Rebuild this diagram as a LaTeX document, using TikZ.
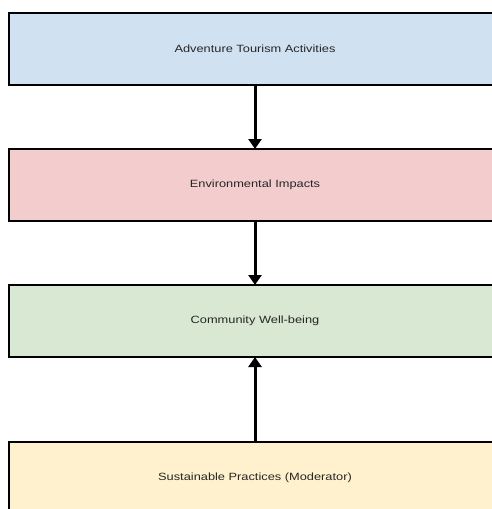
\documentclass[tikz,border=0pt]{standalone}
\usepackage{fontspec}
\setmainfont{Liberation Sans}[FakeStretch=1.22]
\usetikzlibrary{arrows.meta}
\definecolor{boxblue}{HTML}{D0E1F2}
\definecolor{boxred}{HTML}{F3CDCD}
\definecolor{boxgreen}{HTML}{D8E8D2}
\definecolor{boxyellow}{HTML}{FFF1CD}
\begin{document}
\begin{tikzpicture}[x=1pt,y=-1pt]
        \useasboundingbox (0,0) rectangle (491,509);
        \begin{scope}[every node/.style={rectangle,draw=black,line width=1.2pt,minimum width=492pt,minimum height=72pt,align=center,font=\fontsize{10.5}{12}\selectfont,text=black!85,inner sep=0pt,outer sep=0pt}]
            \node[fill=boxblue] (N1) at (255,49) {Adventure Tourism Activities};
            \node[fill=boxred] (N2) at (255,185) {Environmental Impacts};
            \node[fill=boxgreen] (N3) at (255,321) {Community Well-being};
            \node[fill=boxyellow] (N4) at (255,478) {Sustainable Practices (Moderator)};
        \end{scope}
        \begin{scope}[-{Triangle[width=13pt,length=10pt]},line width=3pt]
            \draw (N1.south) -- (N2.north);
            \draw (N2.south) -- (N3.north);
            \draw (N4.north) -- (N3.south);
        \end{scope}
    \end{tikzpicture}
\end{document}
